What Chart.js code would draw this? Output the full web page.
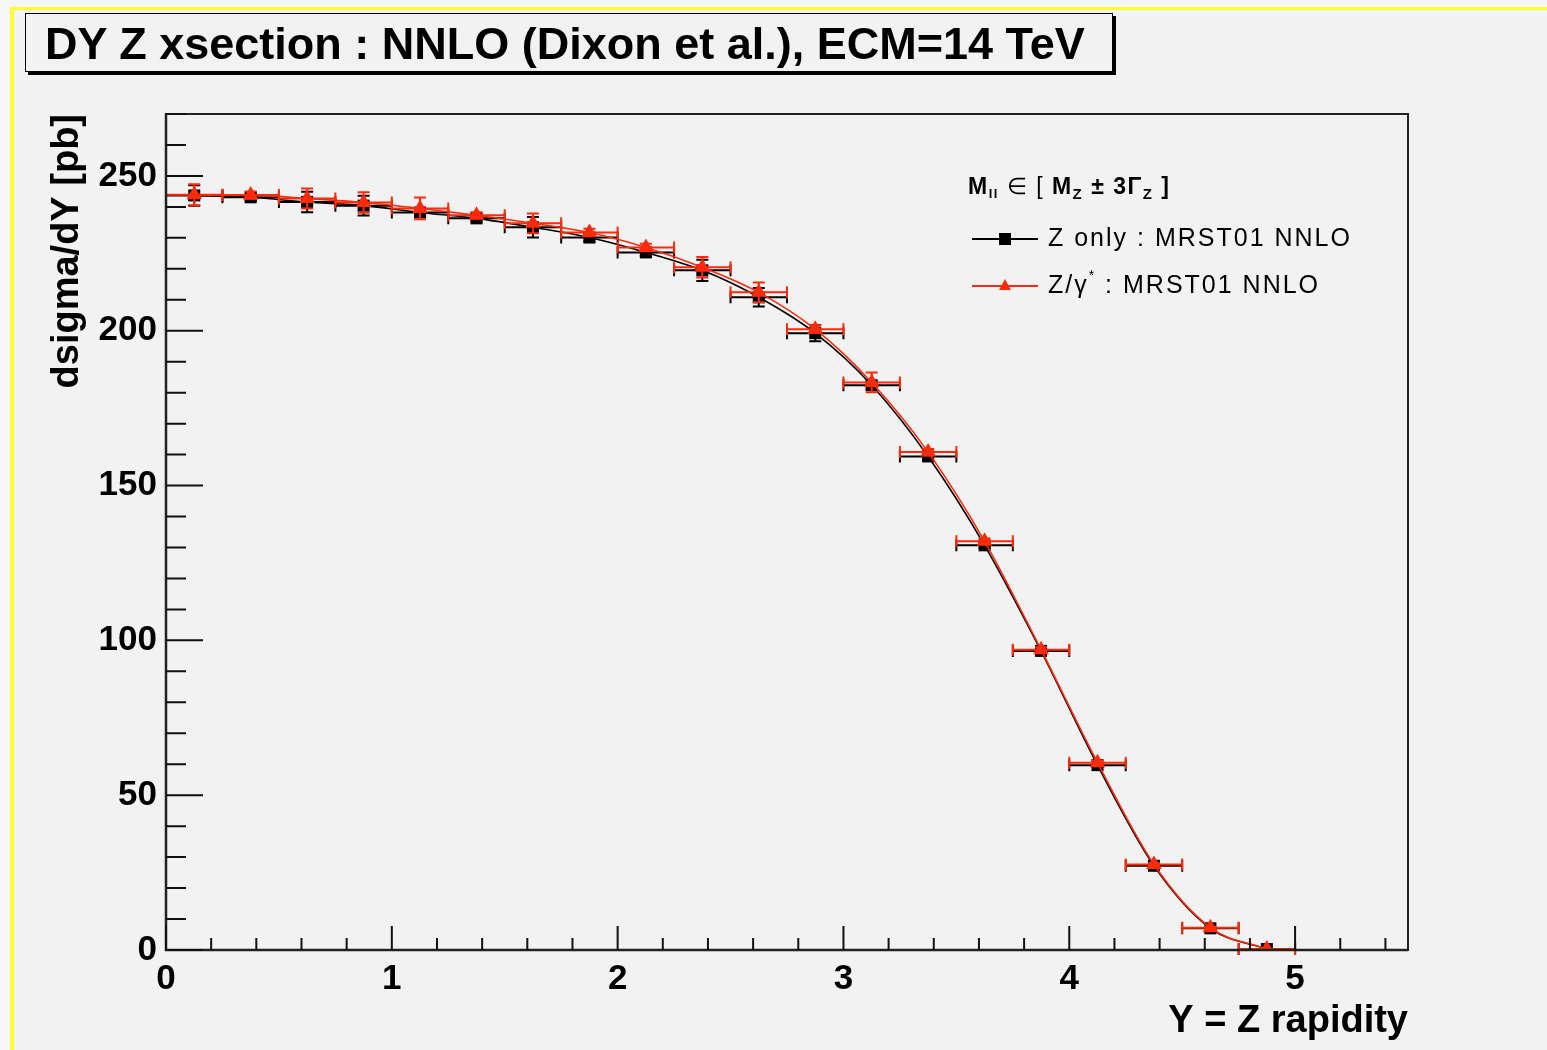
<!DOCTYPE html>
<html>
<head>
<meta charset="utf-8">
<script src="https://cdn.jsdelivr.net/npm/chart.js@4.4.1/dist/chart.umd.min.js"></script>
<style>
  html, body { margin: 0; padding: 0; background: #f6f6f6; overflow: hidden; }
  #page { position: absolute; left: 0; top: 0; width: 1547px; height: 1050px; }
  #pad { position: absolute; left: 10px; top: 7px; width: 1537px; height: 1043px;
         box-sizing: border-box; border-left: 4px solid #ffff33; border-top: 3px solid #ffff33; background: #f2f2f2; }
  #chart { position: absolute; left: 0; top: 0; }
  #title { position: absolute; left: 25px; top: 13px; width: 1088px; height: 59px; box-sizing: border-box;
           border: 1.5px solid #000; box-shadow: 3px 3px 0 #000; background: #f2f2f2;
           font: bold 45px "Liberation Sans", Arial, sans-serif; color: #000;
           padding-left: 19px; line-height: 60px; white-space: nowrap; }
</style>
</head>
<body>
<div id="page">
  <div id="pad"></div>
  <canvas id="chart" width="1547" height="1050"></canvas>
  <div id="title">DY Z xsection : NNLO (Dixon et al.), ECM=14 TeV</div>
</div>
<script>
// ---- data ----
const rapidity = [0.125, 0.375, 0.625, 0.875, 1.125, 1.375, 1.625, 1.875, 2.125, 2.375,
                  2.625, 2.875, 3.125, 3.375, 3.625, 3.875, 4.125, 4.375, 4.625, 4.875];
const binHalfWidth = 0.125;
const zOnly    = [243.7, 243.1, 241.6, 240.4, 238.2, 236.3, 233.4, 230.1, 225.3, 219.5,
                  210.8, 199.2, 182.4, 159.4, 130.7, 96.6, 59.7, 27.2, 7.0, 0.3];
const zOnlyErr = [3.3, 1.2, 3.3, 3.2, 1.2, 1.0, 3.3, 1.2, 1.2, 3.4,
                  3.0, 2.6, 1.2, 1.0, 0.9, 0.8, 0.6, 0.4, 0.2, 0.05];
const zGamma    = [243.9, 243.8, 242.7, 241.4, 239.5, 237.3, 234.7, 231.7, 226.9, 220.5,
                   212.4, 200.5, 183.3, 160.8, 132.0, 97.0, 60.5, 27.6, 7.2, 0.3];
const zGammaErr = [3.4, 1.2, 3.2, 3.3, 3.5, 1.0, 3.2, 1.2, 1.2, 3.3,
                   3.2, 1.2, 3.2, 1.0, 0.9, 0.8, 0.6, 0.4, 0.2, 0.05];
const xTickValues = [0, 1, 2, 3, 4, 5];
const yTickValues = [0, 50, 100, 150, 200, 250];
const xTitle = 'Y = Z rapidity';
const yTitle = 'dsigma/dY [pb]';
const seriesLabels = ['Z only : MRST01 NNLO', 'Z/\u03b3* : MRST01 NNLO'];

const FONT = '"Liberation Sans", Arial, Helvetica, sans-serif';
const BLACK = '#000000';
const RED = '#ff2a0a';

const toPoints = (ys) => rapidity.map((x, i) => ({x: x, y: ys[i]}));

// error bars drawn just before each dataset (so markers sit on top)
const errorBarPlugin = {
  id: 'errorBars',
  beforeDatasetDraw(chart, args) {
    const ds = chart.data.datasets[args.index];
    if (!ds.errors) return;
    const xs = chart.scales.x, ys = chart.scales.y, ctx = chart.ctx;
    ctx.save();
    ctx.strokeStyle = ds.borderColor;
    ctx.lineWidth = 2;
    const cap = 6;
    ds.data.forEach((p, i) => {
      const px = xs.getPixelForValue(p.x);
      const x0 = xs.getPixelForValue(p.x - binHalfWidth);
      const x1 = xs.getPixelForValue(p.x + binHalfWidth);
      const py = ys.getPixelForValue(p.y);
      const yt = ys.getPixelForValue(p.y + ds.errors[i]);
      const yb = ys.getPixelForValue(Math.max(0, p.y - ds.errors[i]));
      ctx.beginPath();
      ctx.moveTo(x0, py); ctx.lineTo(x1, py);
      ctx.moveTo(x0, py - cap); ctx.lineTo(x0, py + cap);
      ctx.moveTo(x1, py - cap); ctx.lineTo(x1, py + cap);
      ctx.moveTo(px, yt); ctx.lineTo(px, yb);
      ctx.moveTo(px - cap, yt); ctx.lineTo(px + cap, yt);
      ctx.moveTo(px - cap, yb); ctx.lineTo(px + cap, yb);
      ctx.stroke();
    });
    ctx.restore();
  }
};

function drawRich(ctx, x, y, parts) {
  parts.forEach(p => {
    ctx.font = p.font;
    ctx.fillText(p.t, x, y + (p.dy || 0));
    x += ctx.measureText(p.t).width;
  });
}

const framePlugin = {
  id: 'frameTicksLegend',
  afterDraw(chart) {
    const ctx = chart.ctx, a = chart.chartArea, xs = chart.scales.x, ys = chart.scales.y;
    ctx.save();
    // frame
    ctx.strokeStyle = '#222';
    ctx.lineWidth = 2;
    ctx.strokeRect(a.left, a.top, a.right - a.left, a.bottom - a.top);
    ctx.lineWidth = 2.5;
    ctx.beginPath();
    ctx.moveTo(a.left, a.top); ctx.lineTo(a.left, a.bottom); ctx.lineTo(a.right, a.bottom);
    ctx.stroke();
    // ticks
    ctx.lineWidth = 2;
    ctx.strokeStyle = '#111';
    ctx.beginPath();
    for (let v = 0; v <= xs.max + 1e-9; v += 0.2) {
      const major = Math.abs(v - Math.round(v)) < 1e-6;
      const px = xs.getPixelForValue(v);
      ctx.moveTo(px, a.bottom); ctx.lineTo(px, a.bottom - (major ? 24 : 12));
    }
    for (let v = 0; v <= ys.max + 1e-9; v += 10) {
      const major = v % 50 === 0;
      const py = ys.getPixelForValue(v);
      ctx.moveTo(a.left, py); ctx.lineTo(a.left + (major ? 37 : 20), py);
    }
    ctx.stroke();

    // legend
    ctx.fillStyle = '#000';
    ctx.textBaseline = 'middle';
    ctx.textAlign = 'left';
    const hb = 'bold 23px ' + FONT, sb = 'bold 15px ' + FONT;
    ctx.letterSpacing = '1.5px';
    drawRich(ctx, 968, 188, [
      {t: 'M', font: hb}, {t: 'll', font: 'bold 13px ' + FONT, dy: 6},
      {t: ' \u2208 [ ', font: '23px ' + FONT},
      {t: 'M', font: hb}, {t: 'Z', font: sb, dy: 7},
      {t: ' \u00b1 3\u0393', font: hb}, {t: 'Z', font: sb, dy: 7},
      {t: ' ]', font: hb}
    ]);
    ctx.letterSpacing = '0px';
    const entries = [
      {y: 239, color: BLACK, marker: 'rect',
       parts: [{t: 'Z only : MRST01 NNLO', font: '25px ' + FONT}]},
      {y: 286, color: RED, marker: 'tri',
       parts: [{t: 'Z/\u03b3', font: '25px ' + FONT}, {t: '*', font: '14px ' + FONT, dy: -10},
               {t: ' : MRST01 NNLO', font: '25px ' + FONT}]}
    ];
    entries.forEach(e => {
      ctx.strokeStyle = e.color; ctx.fillStyle = e.color; ctx.lineWidth = 2;
      ctx.beginPath(); ctx.moveTo(972, e.y); ctx.lineTo(1038, e.y); ctx.stroke();
      if (e.marker === 'rect') {
        ctx.fillRect(1005 - 6, e.y - 6, 12, 12);
      } else {
        ctx.beginPath();
        ctx.moveTo(1005, e.y - 7); ctx.lineTo(1011, e.y + 4); ctx.lineTo(999, e.y + 4);
        ctx.closePath(); ctx.fill();
      }
      ctx.fillStyle = '#000';
      ctx.letterSpacing = '2px';
      drawRich(ctx, 1048, e.y, e.parts);
      ctx.letterSpacing = '0px';
    });
    ctx.restore();
  }
};

const ctx = document.getElementById('chart').getContext('2d');
new Chart(ctx, {
  type: 'line',
  data: {
    datasets: [
      {
        label: seriesLabels[0], data: toPoints(zOnly), errors: zOnlyErr, order: 1,
        borderColor: BLACK, backgroundColor: BLACK, borderWidth: 1.6,
        pointStyle: 'rect', pointRadius: 8.5, pointBorderWidth: 0,
        pointBackgroundColor: BLACK, cubicInterpolationMode: 'monotone', fill: false
      },
      {
        label: seriesLabels[1], data: toPoints(zGamma), errors: zGammaErr, order: 0,
        borderColor: RED, backgroundColor: RED, borderWidth: 1.6,
        pointStyle: 'triangle', pointRadius: 9, pointBorderWidth: 0,
        pointBackgroundColor: RED, cubicInterpolationMode: 'monotone', fill: false
      }
    ]
  },
  options: {
    responsive: false,
    animation: false,
    devicePixelRatio: 1,
    layout: { padding: { left: 0, top: 114, right: 139, bottom: 0 } },
    plugins: { legend: { display: false }, title: { display: false }, tooltip: { enabled: false } },
    scales: {
      x: {
        type: 'linear', min: 0, max: 5.5,
        afterFit: s => { s.height = 100; },
        afterBuildTicks: s => { s.ticks = xTickValues.map(v => ({value: v})); },
        grid: { display: false, drawTicks: false },
        border: { display: false },
        ticks: { color: '#000', font: { family: FONT, size: 35, weight: 'bold' }, padding: 8, maxRotation: 0, autoSkip: false },
        title: { display: true, text: xTitle, align: 'end', color: '#000',
                 font: { family: FONT, size: 38, weight: 'bold' }, padding: { top: 0, bottom: 6 } }
      },
      y: {
        type: 'linear', min: 0, max: 270,
        afterFit: s => { s.width = 166; },
        afterBuildTicks: s => { s.ticks = yTickValues.map(v => ({value: v})); },
        grid: { display: false, drawTicks: false },
        border: { display: false },
        ticks: { color: '#000', font: { family: FONT, size: 35, weight: 'bold' }, padding: 9, autoSkip: false },
        title: { display: true, text: yTitle, align: 'end', color: '#000',
                 font: { family: FONT, size: 38, weight: 'bold' }, padding: { top: 45, bottom: 0 } }
      }
    }
  },
  plugins: [errorBarPlugin, framePlugin]
});
</script>
</body>
</html>
